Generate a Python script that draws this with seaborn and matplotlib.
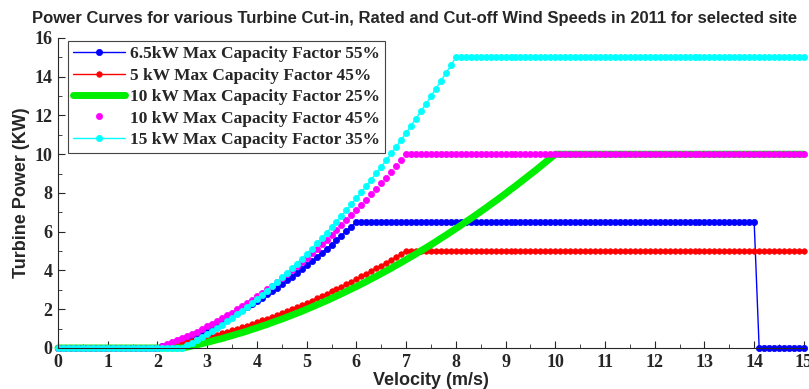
import numpy as np
import pandas as pd
import seaborn as sns
import matplotlib
matplotlib.use("Agg")
import matplotlib.pyplot as plt
from matplotlib.ticker import MultipleLocator

## Wind speed grid (m/s), 0.1 m/s steps
velocity = np.round(np.arange(0, 15.01, 0.1), 1)

## Turbine power (kW)
p_65kw = [0.0] * 20 + [
    0.00, 0.08, 0.17, 0.26, 0.36, 0.46, 0.56, 0.67, 0.78, 0.90,
    1.02, 1.14, 1.27, 1.40, 1.54, 1.68, 1.82, 1.97, 2.12, 2.28,
    2.44, 2.60, 2.77, 2.94, 3.12, 3.30, 3.49, 3.67, 3.87, 4.06,
    4.27, 4.47, 4.68, 4.89, 5.11, 5.33, 5.56, 5.79, 6.02, 6.26,
    6.50] + [6.5] * 80 + [0.0] * 10

p_5kw = [0.0] * 20 + [
    0.00, 0.05, 0.09, 0.14, 0.20, 0.25, 0.31, 0.37, 0.43, 0.49,
    0.56, 0.62, 0.69, 0.77, 0.84, 0.92, 1.00, 1.08, 1.16, 1.25,
    1.33, 1.42, 1.52, 1.61, 1.71, 1.81, 1.91, 2.01, 2.12, 2.22,
    2.33, 2.45, 2.56, 2.68, 2.80, 2.92, 3.04, 3.17, 3.29, 3.42,
    3.56, 3.69, 3.83, 3.97, 4.11, 4.25, 4.40, 4.54, 4.69, 4.85,
    5.00] + [5.0] * 80

p_10kw_25 = [0.0] * 25 + [
    0.00, 0.05, 0.11, 0.17, 0.23, 0.29, 0.36, 0.43, 0.49, 0.57,
    0.64, 0.72, 0.79, 0.87, 0.96, 1.04, 1.13, 1.21, 1.31, 1.40,
    1.49, 1.59, 1.69, 1.79, 1.89, 2.00, 2.11, 2.22, 2.33, 2.44,
    2.56, 2.68, 2.80, 2.92, 3.05, 3.17, 3.30, 3.43, 3.57, 3.70,
    3.84, 3.98, 4.12, 4.27, 4.41, 4.56, 4.71, 4.86, 5.02, 5.17,
    5.33, 5.49, 5.66, 5.82, 5.99, 6.16, 6.33, 6.51, 6.68, 6.86,
    7.04, 7.22, 7.41, 7.59, 7.78, 7.97, 8.17, 8.36, 8.56, 8.76,
    8.96, 9.16, 9.37, 9.58, 9.79, 10.00] + [10.0] * 50

p_10kw_45 = [0.0] * 20 + [
    0.00, 0.09, 0.19, 0.29, 0.39, 0.50, 0.61, 0.73, 0.85, 0.98,
    1.11, 1.25, 1.39, 1.53, 1.68, 1.83, 1.99, 2.15, 2.32, 2.49,
    2.67, 2.85, 3.03, 3.22, 3.41, 3.61, 3.81, 4.02, 4.23, 4.45,
    4.67, 4.89, 5.12, 5.35, 5.59, 5.83, 6.08, 6.33, 6.59, 6.85,
    7.11, 7.38, 7.65, 7.93, 8.21, 8.50, 8.79, 9.09, 9.39, 9.69,
    10.00] + [10.0] * 80

p_15kw = [0.0] * 25 + [
    0.00, 0.13, 0.27, 0.41, 0.56, 0.71, 0.87, 1.04, 1.21, 1.38,
    1.56, 1.74, 1.93, 2.13, 2.33, 2.53, 2.74, 2.96, 3.18, 3.41,
    3.64, 3.87, 4.11, 4.36, 4.61, 4.87, 5.13, 5.40, 5.67, 5.95,
    6.23, 6.52, 6.82, 7.11, 7.42, 7.73, 8.04, 8.36, 8.69, 9.02,
    9.35, 9.69, 10.04, 10.39, 10.74, 11.10, 11.47, 11.84, 12.22, 12.60,
    12.99, 13.38, 13.78, 14.18, 14.59, 15.00] + [15.0] * 70

labels = ["6.5kW Max Capacity Factor 55%", "5 kW Max Capacity Factor 45%",
          "10 kW Max Capacity Factor 25%", "10 kW Max Capacity Factor 45%",
          "15 kW Max Capacity Factor 35%"]

df = pd.DataFrame({"velocity": velocity, labels[0]: p_65kw, labels[1]: p_5kw,
                   labels[2]: p_10kw_25, labels[3]: p_10kw_45, labels[4]: p_15kw})

## Line styles per series
styles = {
    labels[0]: dict(color="#0000FF", marker="o", linestyle="-", linewidth=1, markersize=4.5),
    labels[1]: dict(color="#FF0000", marker="o", linestyle="-", linewidth=1, markersize=4),
    labels[2]: dict(color="#00EE00", marker=None, linestyle="-", linewidth=5),
    labels[3]: dict(color="#FF00FF", marker="o", linestyle="", linewidth=1, markersize=4.5),
    labels[4]: dict(color="#00FFFF", marker="o", linestyle="-", linewidth=1, markersize=4.5),
}

sns.set_style("ticks")
plt.rcParams["font.family"] = ["Liberation Serif", "DejaVu Serif"]
plt.rcParams["font.weight"] = "bold"

fig = plt.figure(figsize=(8.09, 3.89), dpi=100)
ax = fig.add_axes([0.0717, 0.1054, 0.922, 0.797])

for name in labels:
    st = styles[name]
    sns.lineplot(data=df, x="velocity", y=name, ax=ax, label=name, estimator=None,
                 sort=False, color=st["color"], marker=st["marker"],
                 linestyle=st["linestyle"], linewidth=st["linewidth"],
                 markersize=st.get("markersize", 0), markeredgecolor=st["color"],
                 markeredgewidth=0.5, clip_on=False)

ax.set_xlim(0, 15)
ax.set_ylim(0, 16)
ax.xaxis.set_major_locator(MultipleLocator(1))
ax.xaxis.set_minor_locator(MultipleLocator(0.5))
ax.yaxis.set_major_locator(MultipleLocator(2))
ax.yaxis.set_minor_locator(MultipleLocator(1))
ax.tick_params(which="both", direction="in", labelsize=13, pad=4)
ax.tick_params(which="major", length=5)
ax.tick_params(which="minor", length=3)
sns.despine(ax=ax)

ax.set_xlabel("Velocity (m/s)", family="Liberation Sans", fontsize=13,
              fontweight="bold", labelpad=1)
ax.set_ylabel("Turbine Power (KW)", family="Liberation Sans", fontsize=13,
              fontweight="bold", labelpad=3)
ax.set_title("Power Curves for various Turbine Cut-in, Rated and Cut-off Wind Speeds in 2011 for selected site",
             family="Liberation Sans", fontsize=12, fontweight="bold", pad=11, x=0.478)

leg = ax.legend(loc="upper left", bbox_to_anchor=(0.013, 0.99), borderaxespad=0,
                prop={"family": "Liberation Serif", "weight": "bold", "size": 12.5},
                fancybox=False, framealpha=1, edgecolor="#444444", numpoints=1,
                handlelength=3.0, handletextpad=0.3, labelspacing=0.3,
                borderpad=0.3)
leg.get_frame().set_linewidth(0.8)

fig.savefig("out.png", dpi=100)
